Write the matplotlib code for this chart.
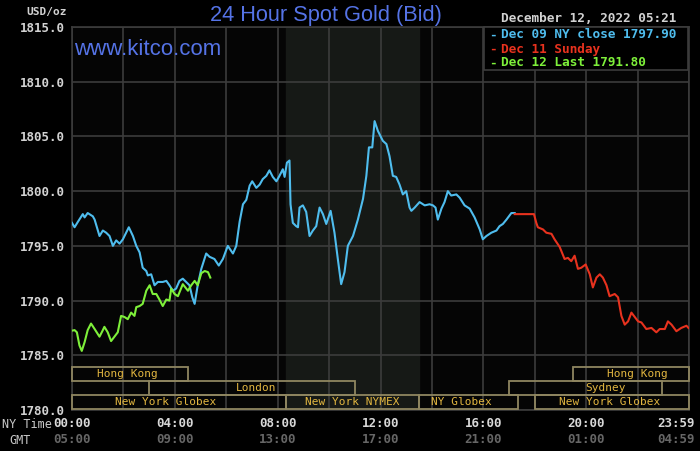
import numpy as np
import matplotlib.pyplot as plt
from matplotlib.patches import Rectangle
import matplotlib.transforms as mtransforms

# data: hours (NY time) and price USD/oz
dec09_hours = [0.0, 0.10, 0.23, 0.42, 0.49, 0.61, 0.81, 0.88, 1.07, 1.20, 1.33, 1.46, 1.59, 1.72,
               1.85, 1.98, 2.21, 2.37, 2.50, 2.63, 2.75, 2.89, 2.95, 3.08, 3.21, 3.34, 3.53, 3.67,
               3.79, 3.92, 4.05, 4.18, 4.31, 4.44, 4.57, 4.68, 4.77, 4.89, 5.03, 5.22, 5.35, 5.54,
               5.71, 5.87, 6.06, 6.26, 6.39, 6.52, 6.65, 6.78, 6.91, 7.01, 7.17, 7.30, 7.42, 7.56,
               7.68, 7.81, 7.95, 8.07, 8.20, 8.27, 8.36, 8.46, 8.50, 8.59, 8.72, 8.79, 8.85, 8.98,
               9.11, 9.24, 9.37, 9.50, 9.63, 9.76, 9.89, 10.06, 10.21, 10.34, 10.47, 10.60, 10.73,
               10.93, 11.12, 11.32, 11.45, 11.55, 11.68, 11.77, 11.90, 12.09, 12.23, 12.35, 12.48,
               12.61, 12.74, 12.87, 13.00, 13.13, 13.20, 13.33, 13.52, 13.72, 13.91, 14.04, 14.14,
               14.23, 14.37, 14.49, 14.62, 14.75, 14.95, 15.08, 15.27, 15.47, 15.66, 15.86, 15.98,
               16.12, 16.31, 16.51, 16.63, 16.76, 16.90, 17.09, 17.22]
dec09_price = [1797.1, 1796.7, 1797.2, 1797.9, 1797.6, 1798.0, 1797.7, 1797.4, 1795.9, 1796.4,
               1796.2, 1795.9, 1795.0, 1795.5, 1795.2, 1795.6, 1796.7, 1795.9, 1795.0, 1794.4,
               1793.0, 1792.7, 1792.3, 1792.4, 1791.4, 1791.7, 1791.7, 1791.8, 1791.4, 1790.9,
               1791.1, 1791.8, 1792.0, 1791.7, 1791.4, 1790.3, 1789.7, 1791.4, 1792.9, 1794.3,
               1794.0, 1793.8, 1793.2, 1793.8, 1795.0, 1794.3, 1795.0, 1797.2, 1798.8, 1799.2,
               1800.5, 1800.9, 1800.3, 1800.6, 1801.1, 1801.4, 1801.9, 1801.3, 1800.9, 1801.4,
               1802.0, 1801.3, 1802.6, 1802.8, 1798.8, 1797.1, 1796.8, 1796.7, 1798.5, 1798.7,
               1798.1, 1795.9, 1796.4, 1796.8, 1798.5, 1797.9, 1797.0, 1798.2, 1796.2, 1793.8,
               1791.5, 1792.6, 1795.0, 1795.9, 1797.4, 1799.3, 1801.4, 1804.0, 1804.0, 1806.4,
               1805.5, 1804.6, 1804.3, 1803.2, 1801.4, 1801.3, 1800.6, 1799.7, 1800.0, 1798.5,
               1798.2, 1798.5, 1799.0, 1798.7, 1798.8, 1798.7, 1798.5, 1797.4, 1798.4, 1799.0,
               1800.0, 1799.6, 1799.7, 1799.4, 1798.7, 1798.4, 1797.6, 1796.5, 1795.6, 1795.9,
               1796.2, 1796.4, 1796.8, 1797.0, 1797.4, 1798.0, 1798.0]

dec11_hours = [17.22, 17.97, 18.06, 18.12, 18.32, 18.45, 18.65, 18.77, 18.97, 19.16, 19.29, 19.42,
               19.55, 19.68, 19.81, 19.98, 20.14, 20.26, 20.40, 20.53, 20.65, 20.79, 20.91, 21.11,
               21.24, 21.37, 21.50, 21.63, 21.76, 21.89, 22.02, 22.15, 22.34, 22.54, 22.73, 22.86,
               23.06, 23.18, 23.32, 23.51, 23.70, 23.90, 23.98]
dec11_price = [1797.9, 1797.9, 1797.1, 1796.7, 1796.5, 1796.2, 1796.1, 1795.6, 1794.9, 1793.8,
               1793.9, 1793.6, 1794.1, 1792.9, 1793.0, 1793.3, 1792.4, 1791.2, 1792.1, 1792.4,
               1792.1, 1791.4, 1790.4, 1790.6, 1790.3, 1788.6, 1787.8, 1788.1, 1788.9, 1788.5,
               1788.1, 1788.0, 1787.4, 1787.5, 1787.1, 1787.4, 1787.4, 1788.1, 1787.8, 1787.2,
               1787.5, 1787.7, 1787.5]

dec12_hours = [0.0, 0.10, 0.19, 0.29, 0.38, 0.49, 0.61, 0.74, 0.88, 1.07, 1.20, 1.26, 1.39, 1.52,
               1.65, 1.78, 1.91, 2.04, 2.17, 2.30, 2.43, 2.50, 2.63, 2.75, 2.89, 3.02, 3.14, 3.28,
               3.40, 3.53, 3.67, 3.79, 3.86, 3.99, 4.12, 4.31, 4.51, 4.64, 4.77, 4.89, 5.03, 5.16,
               5.29, 5.38]
dec12_price = [1787.25, 1787.3, 1787.1, 1785.9, 1785.4, 1786.2, 1787.3, 1787.9, 1787.4, 1786.7,
               1787.3, 1787.6, 1787.1, 1786.3, 1786.7, 1787.1, 1788.6, 1788.5, 1788.3, 1788.9,
               1788.6, 1789.4, 1789.5, 1789.7, 1790.9, 1791.4, 1790.6, 1790.6, 1790.1, 1789.5,
               1790.1, 1790.0, 1791.1, 1790.6, 1790.4, 1791.5, 1790.9, 1791.4, 1791.8, 1791.4,
               1792.5, 1792.7, 1792.6, 1792.1]

# trading sessions: name, start, end, row (0 = bottom), label centre
sess_names = ["New York Globex", "New York NYMEX", "NY Globex", "New York Globex",
              "London", "Sydney", "Hong Kong", "Hong Kong"]
sess_start = [0.0, 8.33, 13.5, 18.0, 3.0, 17.0, 0.0, 19.5]
sess_end = [8.33, 13.5, 17.33, 24.0, 11.0, 22.95, 4.5, 24.0]
sess_row = [0, 0, 0, 0, 1, 1, 2, 2]
sess_label_x = [3.65, 10.9, 15.15, 20.9, 7.15, 20.75, 2.15, 22.0]

xtick_hours = [0, 4, 8, 12, 16, 20]
ny_labels = ["00:00", "04:00", "08:00", "12:00", "16:00", "20:00"]
gmt_labels = ["05:00", "09:00", "13:00", "17:00", "21:00", "01:00"]

legend_text = ["Dec 09 NY close 1797.90", "Dec 11 Sunday", "Dec 12 Last 1791.80"]
c_blue = "#4fbdee"
c_red = "#e8321e"
c_green = "#7ef03a"
legend_cols = [c_blue, c_red, c_green]

mono = "DejaVu Sans Mono"
grid_c = "#3c3c3c"
gold = "#e2b640"
box_c = "#8f8660"
title_c = "#5573e6"

fig = plt.figure(figsize=(7, 4.51), dpi=100, facecolor="black")
ax = fig.add_axes([72 / 700, 1 - 410 / 451, 617 / 700, 383 / 451])
ax.set_facecolor("#050505")
ax.set_xlim(0, 24)
ax.set_ylim(1780, 1815)

# NYMEX shaded block
ax.axvspan(8.33, 13.5, color="#161916", zorder=0)

ax.set_xticks(np.arange(0, 25, 2))
ax.set_yticks(np.arange(1780, 1816, 5))
ax.grid(True, color=grid_c, linewidth=1.2, zorder=1)
ax.tick_params(length=0, labelbottom=False)
ax.set_yticklabels(["%.1f" % v for v in np.arange(1780, 1816, 5)],
                   fontfamily=mono, fontweight="bold", fontsize=9, color="#d2d2d2")
ax.tick_params(axis="y", pad=5)
for s in ax.spines.values():
    s.set_color(grid_c)
    s.set_linewidth(1.2)

ax.plot(dec09_hours, dec09_price, color=c_blue, lw=1.5, zorder=4)
ax.plot(dec11_hours, dec11_price, color=c_red, lw=1.5, zorder=4)
ax.plot(dec12_hours, dec12_price, color=c_green, lw=1.5, zorder=5)

# session boxes
row_h = 1.28
for name, a, b, r, lx in zip(sess_names, sess_start, sess_end, sess_row, sess_label_x):
    y0 = 1780.05 + r * row_h
    ax.add_patch(Rectangle((a, y0), b - a, row_h, fill=False, edgecolor=box_c,
                           lw=1.3, zorder=3, clip_on=False))
    ax.text(lx, y0 + row_h / 2, name, ha="center", va="center", fontfamily=mono,
            fontsize=8, color=gold, zorder=6)

# bottom time labels
trans = mtransforms.blended_transform_factory(ax.transData, ax.transAxes)
for h, ny, gmt in zip(xtick_hours, ny_labels, gmt_labels):
    ax.text(h, -0.035, ny, transform=trans, ha="center", va="center", fontfamily=mono,
            fontweight="bold", fontsize=9, color="#d8d8d8", clip_on=False)
    ax.text(h, -0.077, gmt, transform=trans, ha="center", va="center", fontfamily=mono,
            fontweight="bold", fontsize=9, color="#666666", clip_on=False)
ax.text(1.01, -0.035, "23:59", transform=ax.transAxes, ha="right", va="center",
        fontfamily=mono, fontweight="bold", fontsize=9, color="#d8d8d8")
ax.text(1.01, -0.077, "04:59", transform=ax.transAxes, ha="right", va="center",
        fontfamily=mono, fontweight="bold", fontsize=9, color="#666666")
fig.text(2 / 700, 1 - 425 / 451, "NY Time", ha="left", va="center", fontfamily=mono,
         fontsize=8.5, color="#c8c8c8")
fig.text(9 / 700, 1 - 440 / 451, "GMT", ha="left", va="center", fontfamily=mono,
         fontsize=8.5, color="#c8c8c8")

# titles
fig.text(326 / 700, 1 - 15 / 451, "24 Hour Spot Gold (Bid)", ha="center", va="center",
         fontfamily="Liberation Sans", fontsize=15.7, color=title_c)
ax.text(0.003, 0.94, "www.kitco.com", transform=ax.transAxes, ha="left", va="center",
        fontfamily="Liberation Sans", fontsize=16, color=title_c)
fig.text(67 / 700, 1 - 12 / 451, "USD/oz", ha="right", va="center", fontfamily=mono,
         fontweight="bold", fontsize=8, color="#d2d2d2")
fig.text(676 / 700, 1 - 18 / 451, "December 12, 2022 05:21", ha="right", va="center",
         fontfamily=mono, fontweight="bold", fontsize=9.2, color="#d2d2d2")

# legend box
ax.add_patch(Rectangle((484 / 700, 1 - 70 / 451), 204 / 700, 43 / 451, transform=fig.transFigure,
                       facecolor="black", edgecolor=grid_c, lw=1.2, zorder=7, clip_on=False))
for i, (t, c) in enumerate(zip(legend_text, legend_cols)):
    ypos = 1 - (35 + i * 14) / 451
    fig.text(489 / 700, ypos, "-", ha="left", va="center", fontfamily=mono,
             fontweight="bold", fontsize=9, color=c, zorder=8)
    fig.text(501 / 700, ypos, t, ha="left", va="center", fontfamily=mono,
             fontweight="bold", fontsize=9.2, color=c, zorder=8)

fig.savefig("out.png", dpi=100, facecolor="black")
